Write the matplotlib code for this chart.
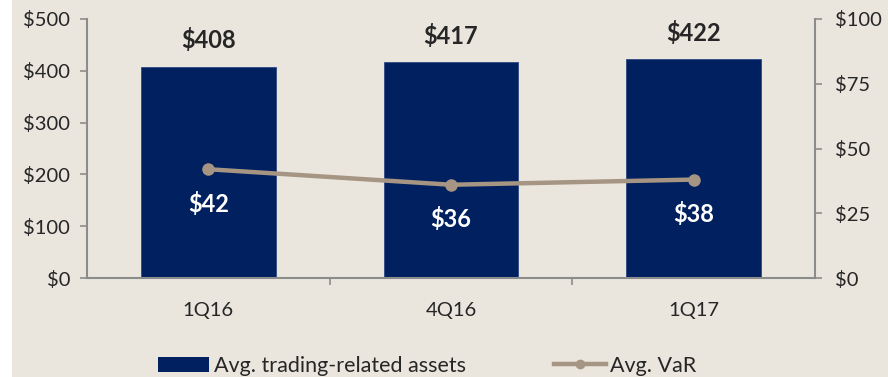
import matplotlib
matplotlib.use("Agg")
import matplotlib.pyplot as plt
from matplotlib.patches import Rectangle
from matplotlib.lines import Line2D

quarters = ["1Q16", "4Q16", "1Q17"]
trading_assets = [408, 417, 422]
avg_var = [42, 36, 38]
left_ticks = [0, 100, 200, 300, 400, 500]
right_ticks = [0, 25, 50, 75, 100]

BG = "#EAE6DD"
NAVY = "#002060"
TAUPE = "#A69583"
SPINE = "#8C8C8C"
TEXT = "#262626"

plt.rcParams["font.family"] = ["Lato", "DejaVu Sans"]

fig = plt.figure(figsize=(8.88, 3.77), dpi=100)
fig.patch.set_facecolor("white")
fig.add_artist(Rectangle((12 / 888, 0), 1, 1, transform=fig.transFigure,
                         facecolor=BG, edgecolor="none", zorder=0))

ax = fig.add_axes([87 / 888, 1 - 278 / 377, (815 - 87) / 888, (278 - 19) / 377])
ax.set_facecolor("none")
x = list(range(len(quarters)))
ax.bar(x, trading_assets, width=0.556, color=NAVY, edgecolor="#2E4A85",
       linewidth=0.6, zorder=2)
ax.set_xlim(-0.5, 2.5)
ax.set_ylim(0, 500)
ax.set_yticks(left_ticks)
ax.set_yticklabels([f"${v}" for v in left_ticks])
ax.set_xticks([0.5, 1.5])
ax.set_xticklabels([])
ax.set_xticks(x, minor=True)
ax.set_xticklabels(quarters, minor=True)
ax.tick_params(axis="x", which="minor", length=0, pad=17, labelsize=14.5, labelcolor=TEXT)
ax.tick_params(axis="x", which="major", length=5, width=1.2, color=SPINE)
ax.tick_params(axis="y", length=5, width=1.2, color=SPINE, labelsize=14.5,
               labelcolor=TEXT, pad=7)
for s in ["top", "right"]:
    ax.spines[s].set_visible(False)
for s in ["left", "bottom"]:
    ax.spines[s].set_color(SPINE)
    ax.spines[s].set_linewidth(1.5)

for xi, v in zip(x, trading_assets):
    ax.annotate(f"${v}", (xi, v), xytext=(0, 19), textcoords="offset points",
                ha="center", va="center", fontsize=17, fontweight="bold",
                color=TEXT, zorder=4)

ax2 = ax.twinx()
ax2.set_ylim(0, 100)
ax2.set_yticks(right_ticks)
ax2.set_yticklabels([f"${v}" for v in right_ticks])
ax2.plot(x, avg_var, color=TAUPE, linewidth=3.2, marker="o", markersize=8,
         solid_capstyle="round", zorder=3)
ax2.tick_params(axis="y", length=5, width=1.2, color=SPINE, labelsize=14.5,
                labelcolor=TEXT, pad=9.5)
for s in ["top", "left", "bottom"]:
    ax2.spines[s].set_visible(False)
ax2.spines["right"].set_color(SPINE)
ax2.spines["right"].set_linewidth(1.5)

for xi, v in zip(x, avg_var):
    ax2.annotate(f"${v}", (xi, v), xytext=(0, -25), textcoords="offset points",
                 ha="center", va="center", fontsize=17, fontweight="bold",
                 color="white", zorder=4)

handles = [
    Rectangle((0, 0), 1, 1, facecolor=NAVY, edgecolor="none"),
    Line2D([0], [0], color=TAUPE, linewidth=3.2, marker="o", markersize=6),
]
fig.legend(handles, ["Avg. trading-related assets", "Avg. VaR"],
           loc="center", bbox_to_anchor=(427 / 888, 1 - 366 / 377), ncol=2,
           frameon=False, fontsize=15.5, handlelength=2.4, handletextpad=0.2,
           columnspacing=4.1, labelcolor=TEXT)

fig.savefig("out.png", dpi=100, facecolor=fig.get_facecolor())
